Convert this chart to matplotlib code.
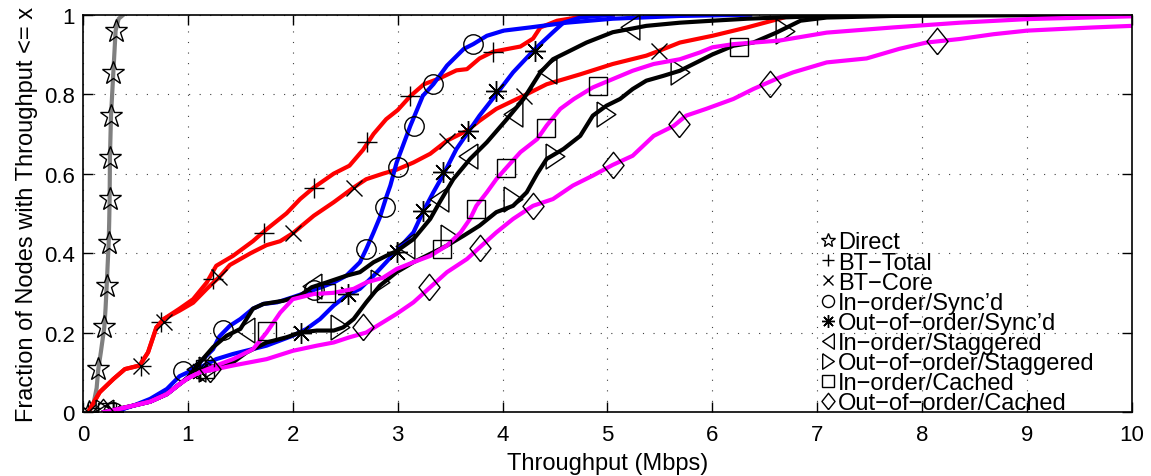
import numpy as np
import matplotlib
matplotlib.use('Agg')
import matplotlib.pyplot as plt
from matplotlib.ticker import FormatStrFormatter

plt.rcParams['font.family'] = ['Liberation Sans', 'DejaVu Sans']
plt.rcParams['font.size'] = 17

# --- data (throughput in Mbps, fraction of nodes) ---
direct_x = [0.06, 0.10, 0.13, 0.146, 0.17, 0.203, 0.215, 0.226, 0.235, 0.245, 0.25, 0.254, 0.257, 0.267, 0.289, 0.311, 0.34, 0.385]
direct_y = [0, 0.02, 0.06, 0.108, 0.15, 0.213, 0.26, 0.318, 0.37, 0.425, 0.48, 0.536, 0.64, 0.746, 0.853, 0.96, 0.99, 1.0]
direct_mx = [0.06, 0.146, 0.203, 0.226, 0.245, 0.254, 0.257, 0.267, 0.289, 0.311]
direct_my = [0, 0.108, 0.213, 0.318, 0.425, 0.536, 0.64, 0.746, 0.853, 0.96]

bt_total_x = [0.05, 0.16, 0.29, 0.40, 0.54, 0.62, 0.70, 0.77, 0.92, 1.05, 1.18, 1.27, 1.43, 1.62, 1.75, 1.94, 2.07, 2.20, 2.39, 2.54,
              2.67, 2.77, 2.89, 3.0, 3.12, 3.25, 3.40, 3.56, 3.66, 3.78, 3.91, 4.17, 4.29, 4.36, 4.52, 4.80, 5.05]
bt_total_y = [0, 0.05, 0.083, 0.108, 0.117, 0.15, 0.213, 0.234, 0.26, 0.284, 0.326, 0.368, 0.393, 0.43, 0.46, 0.50, 0.536, 0.565, 0.60, 0.62,
              0.66, 0.70, 0.737, 0.76, 0.795, 0.825, 0.84, 0.86, 0.863, 0.89, 0.907, 0.92, 0.94, 0.968, 0.985, 0.997, 1.0]
bt_total_mx = [0.05, 0.55, 0.744, 1.24, 1.73, 2.20, 2.71, 3.12, 3.91]
bt_total_my = [0, 0.117, 0.227, 0.335, 0.45, 0.565, 0.68, 0.795, 0.907]

bt_core_x = [0.05, 0.16, 0.29, 0.40, 0.54, 0.62, 0.70, 0.77, 0.92, 1.05, 1.18, 1.30, 1.40, 1.60, 1.75, 1.88, 2.0, 2.2, 2.39, 2.58, 2.70,
             2.86, 2.99, 3.15, 3.31, 3.47, 3.66, 3.78, 3.94, 4.2, 4.42, 4.74, 5.05, 5.37, 5.49, 5.69, 6.0, 6.33, 6.64, 6.77]
bt_core_y = [0, 0.05, 0.083, 0.108, 0.117, 0.15, 0.213, 0.234, 0.255, 0.275, 0.31, 0.34, 0.37, 0.40, 0.42, 0.43, 0.45, 0.494, 0.528, 0.565, 0.586,
             0.60, 0.61, 0.628, 0.65, 0.683, 0.708, 0.733, 0.763, 0.796, 0.825, 0.85, 0.876, 0.897, 0.909, 0.93, 0.947, 0.968, 0.99, 1.0]
bt_core_mx = [0.05, 0.55, 0.77, 1.30, 2.0, 2.58, 3.47, 4.20, 5.49]
bt_core_my = [0, 0.117, 0.227, 0.34, 0.45, 0.565, 0.683, 0.796, 0.909]

in_sync_x = [0.29, 0.48, 0.64, 0.80, 0.92, 1.0, 1.115, 1.24, 1.30, 1.40, 1.50, 1.62, 1.72, 1.85, 2.0, 2.2, 2.39, 2.51, 2.64, 2.70, 2.77,
             2.83, 2.89, 2.93, 2.99, 3.12, 3.24, 3.34, 3.47, 3.63, 3.72, 3.85, 4.01, 4.26, 4.61, 5.05, 5.69, 6.36]
in_sync_y = [0, 0.016, 0.033, 0.058, 0.09, 0.10, 0.125, 0.158, 0.19, 0.217, 0.234, 0.26, 0.272, 0.276, 0.289, 0.307, 0.326, 0.343, 0.377, 0.41, 0.452,
             0.49, 0.54, 0.57, 0.628, 0.72, 0.796, 0.825, 0.872, 0.914, 0.926, 0.947, 0.96, 0.968, 0.98, 0.99, 0.997, 1.0]
in_sync_mx = [0.29, 0.95, 1.33, 2.2, 2.70, 2.88, 3.0, 3.16, 3.34, 3.72]
in_sync_my = [0, 0.104, 0.206, 0.307, 0.41, 0.515, 0.616, 0.72, 0.825, 0.926]

out_sync_x = [0.29, 0.48, 0.64, 0.80, 0.92, 1.0, 1.115, 1.27, 1.43, 1.75, 2.0, 2.13, 2.26, 2.39, 2.51, 2.64, 2.77, 2.89, 3.02, 3.15, 3.24,
              3.34, 3.43, 3.56, 3.67, 3.78, 3.94, 4.10, 4.31, 4.48, 4.58, 4.74, 5.05]
out_sync_y = [0, 0.016, 0.026, 0.045, 0.07, 0.087, 0.112, 0.133, 0.146, 0.167, 0.192, 0.209, 0.234, 0.268, 0.293, 0.31, 0.343, 0.377, 0.415, 0.452, 0.503,
              0.553, 0.595, 0.662, 0.704, 0.746, 0.80, 0.855, 0.914, 0.956, 0.98, 0.993, 1.0]
out_sync_mx = [0.29, 1.115, 2.08, 2.53, 2.99, 3.24, 3.43, 3.67, 3.94, 4.31]
out_sync_my = [0, 0.104, 0.2, 0.297, 0.403, 0.507, 0.603, 0.708, 0.809, 0.909]

in_stag_x = [0.2, 0.48, 0.64, 0.80, 0.92, 1.0, 1.115, 1.24, 1.37, 1.50, 1.62, 1.72, 1.91, 2.07, 2.18, 2.32, 2.51, 2.64, 2.77, 2.89, 2.99,
             3.15, 3.31, 3.40, 3.53, 3.69, 3.85, 4.04, 4.20, 4.36, 4.48, 4.61, 4.80, 5.05, 5.37, 5.69, 6.0, 6.33, 6.64, 7.09, 8.04]
in_stag_y = [0, 0.016, 0.026, 0.045, 0.07, 0.087, 0.125, 0.163, 0.192, 0.209, 0.26, 0.272, 0.28, 0.293, 0.314, 0.326, 0.343, 0.352, 0.377, 0.393, 0.405,
             0.435, 0.486, 0.528, 0.586, 0.637, 0.679, 0.737, 0.788, 0.855, 0.888, 0.905, 0.93, 0.956, 0.972, 0.98, 0.985, 0.99, 0.993, 0.997, 1.0]
in_stag_mx = [0.2, 1.08, 1.54, 2.18, 3.07, 3.39, 3.67, 4.10, 4.42, 5.21]
in_stag_my = [0, 0.108, 0.206, 0.318, 0.419, 0.536, 0.645, 0.75, 0.859, 0.968]

out_stag_x = [0.2, 0.48, 0.64, 0.80, 0.92, 1.0, 1.115, 1.24, 1.43, 1.56, 1.75, 1.94, 2.07, 2.23, 2.39, 2.48, 2.58, 2.70, 2.83, 2.99, 3.15,
              3.31, 3.47, 3.63, 3.78, 3.94, 4.10, 4.23, 4.33, 4.42, 4.58, 4.74, 4.86, 4.99, 5.12, 5.24, 5.37, 5.53, 5.69, 5.88, 6.0,
              6.2, 6.39, 6.61, 6.71, 6.84, 7.09, 7.72, 10.0]
out_stag_y = [0, 0.016, 0.026, 0.045, 0.07, 0.085, 0.105, 0.115, 0.125, 0.15, 0.175, 0.188, 0.2, 0.205, 0.205, 0.213, 0.234, 0.276, 0.318, 0.352, 0.377,
              0.398, 0.419, 0.444, 0.469, 0.503, 0.519, 0.553, 0.60, 0.637, 0.662, 0.695, 0.746, 0.771, 0.788, 0.813, 0.834, 0.846, 0.859, 0.884, 0.90,
              0.922, 0.93, 0.955, 0.968, 0.985, 0.993, 0.997, 1.0]
out_stag_mx = [0.21, 1.19, 2.45, 2.83, 3.50, 4.10, 4.50, 4.99, 5.69, 6.69]
out_stag_my = [0, 0.108, 0.213, 0.326, 0.44, 0.536, 0.645, 0.75, 0.855, 0.96]

in_cache_x = [0.23, 0.48, 0.64, 0.80, 0.92, 1.0, 1.115, 1.27, 1.43, 1.62, 1.75, 1.88, 2.0, 2.2, 2.39, 2.58, 2.70, 2.86, 2.99, 3.15, 3.31,
              3.47, 3.60, 3.69, 3.75, 3.85, 3.94, 4.04, 4.17, 4.33, 4.42, 4.55, 4.68, 4.86, 5.05, 5.24, 5.44, 5.69, 5.88, 6.0, 6.2,
              6.64, 7.09, 7.72, 8.36, 9.0, 10.0]
in_cache_y = [0, 0.016, 0.026, 0.045, 0.07, 0.085, 0.1, 0.117, 0.133, 0.158, 0.2, 0.25, 0.284, 0.297, 0.30, 0.31, 0.326, 0.338, 0.36, 0.377, 0.393,
              0.419, 0.452, 0.486, 0.519, 0.553, 0.586, 0.616, 0.654, 0.687, 0.721, 0.763, 0.788, 0.817, 0.838, 0.859, 0.876, 0.888, 0.905, 0.918, 0.926,
              0.935, 0.955, 0.968, 0.98, 0.989, 0.996]
in_cache_mx = [0.23, 1.16, 1.75, 2.32, 3.42, 3.75, 4.03, 4.41, 4.91, 6.25]
in_cache_my = [0, 0.108, 0.205, 0.30, 0.41, 0.511, 0.613, 0.716, 0.82, 0.92]

out_cache_x = [0.2, 0.48, 0.64, 0.80, 0.92, 1.0, 1.115, 1.27, 1.43, 1.75, 2.0, 2.23, 2.39, 2.54, 2.70, 2.86, 2.99, 3.15, 3.31, 3.47, 3.66,
               3.78, 3.94, 4.10, 4.29, 4.48, 4.67, 4.86, 5.05, 5.24, 5.44, 5.63, 5.75, 5.94, 6.2, 6.39, 6.64, 6.77, 7.09, 7.47, 7.78,
               8.04, 8.36, 8.68, 9.0, 9.31, 9.63, 10.0]
out_cache_y = [0, 0.016, 0.026, 0.045, 0.07, 0.085, 0.1, 0.108, 0.117, 0.133, 0.154, 0.167, 0.175, 0.188, 0.2, 0.226, 0.247, 0.276, 0.314, 0.352, 0.385,
               0.414, 0.452, 0.486, 0.519, 0.536, 0.57, 0.595, 0.622, 0.645, 0.695, 0.72, 0.746, 0.763, 0.788, 0.813, 0.842, 0.855, 0.88, 0.89, 0.914,
               0.93, 0.939, 0.951, 0.96, 0.964, 0.968, 0.972]
out_cache_mx = [0.19, 1.21, 2.67, 3.30, 3.78, 4.29, 5.05, 5.68, 6.55, 8.14]
out_cache_my = [0, 0.108, 0.213, 0.314, 0.414, 0.519, 0.622, 0.725, 0.826, 0.933]

labels = ['Direct', 'BT\u2212Total', 'BT\u2212Core', 'In\u2212order/Sync\u2019d', 'Out\u2212of\u2212order/Sync\u2019d',
          'In\u2212order/Staggered', 'Out\u2212of\u2212order/Staggered', 'In\u2212order/Cached', 'Out\u2212of\u2212order/Cached']

# MATLAB-like marker shapes
diamond = [(0, -1), (0.8, 0), (0, 1), (-0.8, 0), (0, -1)]
tri_left = [(0.75, 1), (-0.75, 0), (0.75, -1), (0.75, 1)]
tri_right = [(-0.75, 1), (0.75, 0), (-0.75, -1), (-0.75, 1)]

series = [
    (direct_x, direct_y, direct_mx, direct_my, '#808080', '*', 17),
    (bt_total_x, bt_total_y, bt_total_mx, bt_total_my, 'red', '+', 15),
    (bt_core_x, bt_core_y, bt_core_mx, bt_core_my, 'red', 'x', 11),
    (in_sync_x, in_sync_y, in_sync_mx, in_sync_my, 'blue', 'o', 14),
    (out_sync_x, out_sync_y, out_sync_mx, out_sync_my, 'blue', (8, 2, 0), 15),
    (in_stag_x, in_stag_y, in_stag_mx, in_stag_my, 'black', tri_left, 18),
    (out_stag_x, out_stag_y, out_stag_mx, out_stag_my, 'black', tri_right, 18),
    (in_cache_x, in_cache_y, in_cache_mx, in_cache_my, 'magenta', 's', 13),
    (out_cache_x, out_cache_y, out_cache_mx, out_cache_my, 'magenta', diamond, 19),
]

fig = plt.figure(figsize=(11.51, 4.77), dpi=100)
ax = fig.add_axes([0.0721, 0.1342, 0.9114, 0.8328])

for (lx, ly, mx, my, col, mk, ms), lab in zip(series, labels):
    ax.plot(lx, ly, '-', color=col, linewidth=3.0, solid_joinstyle='round')
    ax.plot(mx, my, linestyle='none', marker=mk, markersize=ms, markeredgecolor='black',
            markerfacecolor='none', markeredgewidth=1.0, label=lab)

ax.set_xlim(0, 10)
ax.set_ylim(0, 1)
ax.set_xticks(np.arange(0, 11, 1))
ax.set_yticks([0, 0.2, 0.4, 0.6, 0.8, 1.0])
ax.yaxis.set_major_formatter(FormatStrFormatter('%g'))
ax.tick_params(direction='in', length=7.5, width=1, top=True, right=True, labelsize=16)
ax.tick_params(axis='x', pad=9)
ax.tick_params(axis='y', pad=6)
ax.grid(True, color='0.25', linestyle=(0, (1, 8.5)), linewidth=0.8)
ax.set_axisbelow(True)
for s in ax.spines.values():
    s.set_linewidth(1.2)

ax.set_xlabel('Throughput (Mbps)', fontsize=17, labelpad=5)
ax.set_ylabel('Fraction of Nodes with Throughput <= x', fontsize=17, labelpad=4)

ax.legend(loc='lower left', bbox_to_anchor=(0.702, -0.006), frameon=False, borderpad=0, borderaxespad=0,
          labelspacing=-0.08, handlelength=0.7, handletextpad=0.08, markerscale=0.62, fontsize=17)

fig.savefig('out.png', dpi=100)
